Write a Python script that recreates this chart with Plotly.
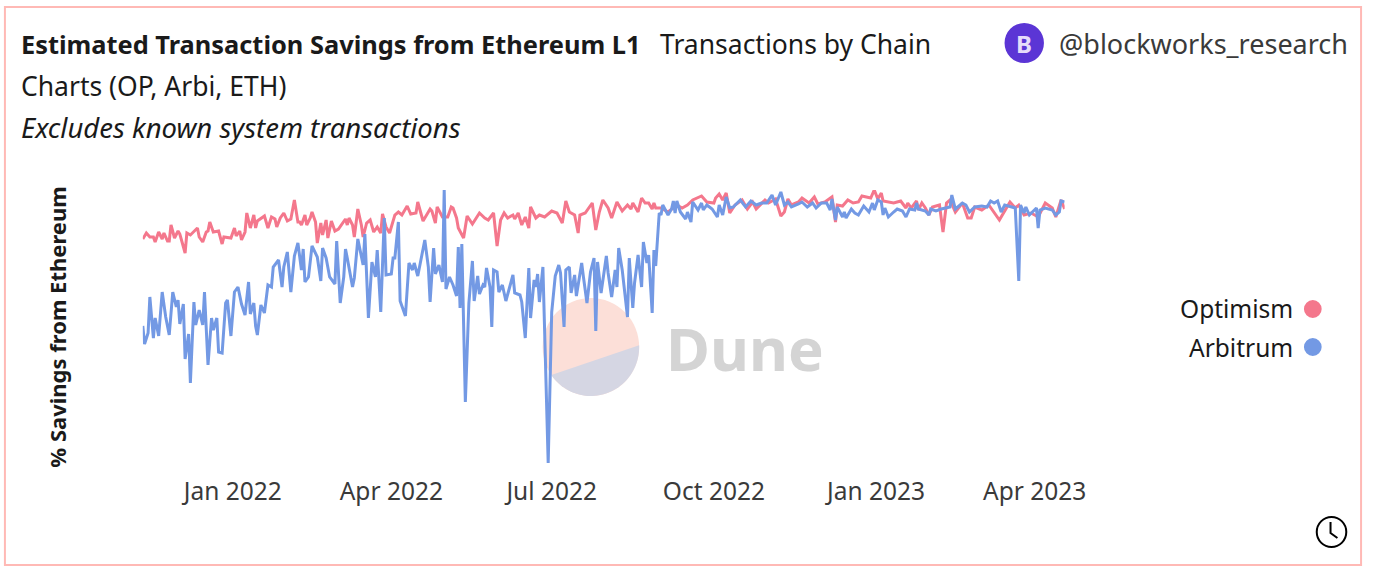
import math
import pandas as pd
import plotly.graph_objects as go

W, H = 1386, 570
FONT = "Noto Sans"
PINK = "#f4778c"
BLUE = "#7399e4"

start = pd.Timestamp("2021-11-11")
end = pd.Timestamp("2023-04-18")
tick_dates = ["2022-01-01", "2022-04-01", "2022-07-01", "2022-10-01", "2023-01-01", "2023-04-01"]

# days since start, % savings
op_days = [0,2,4,6,7,9,11,12,14,15,16,18,20,21,24,25,27,31,32,34,36,37,38,40,43,45,46,50,52,53,55,56,58,59,61,63,64,65,69,71,73,75,76,78,80,82,84,86,88,89,90,92,93,95,96,98,99,101,102,104,105,107,109,111,115,116,117,119,120,122,124,125,127,129,131,133,135,136,138,140,143,145,147,150,152,155,156,159,163,164,166,167,170,173,175,
    176,178,179,182,184,187,191,194,196,199,201,203,205,207,210,211,213,215,217,219,220,223,225,228,232,235,238,240,242,245,247,248,251,255,257,259,261,264,266,269,272,275,277,278,281,283,285,287,289,290,291,294,298,303,306,309,312,317,320,324,325,327,329,331,333,336,340,343,346,
    348,351,353,355,359,362,364,366,368,372,374,378,381,383,387,391,393,394,397,400,403,406,408,413,415,417,419,420,424,426,430,433,434,436,439,440,442,444,446,448,452,454,456,458,461,465,468,470,472,476,480,483,486,490,492,495,497,500,504,508,512,516,518,521,523]
op_vals = [94.1,94.7,94.3,94.3,93.8,94.8,94.1,94.7,93.9,93.9,95.5,94.2,94.9,94.6,92.7,94.7,94.5,95.2,94.3,93.8,94.8,94.9,95.8,94.8,94.9,93.6,94.3,94.2,95.2,94.4,94.9,94.0,94.8,96.7,95.2,96.5,95.2,95.9,96.4,95.2,96.3,96.1,95.3,96.2,96.7,95.9,96.1,98.0,95.8,95.8,95.5,96.5,95.5,96.2,96.8,95.8,93.7,95.7,94.5,96.0,94.2,95.9,94.9,95.1,96.1,95.5,96.2,95.5,94.3,97.1,95.5,94.3,95.7,96.0,94.8,95.3,94.7,96.6,95.3,94.7,96.5,96.8,96.5,97.4,96.6,96.7,97.8,95.9,97.1,96.9,95.7,97.3,96.3,96.3,97.3,
    97.2,96.2,95.2,94.2,96.4,95.6,96.7,96.2,96.0,96.7,93.4,96.0,96.7,96.2,96.5,96.1,96.7,95.5,96.3,95.2,97.3,96.2,96.5,96.3,96.9,96.7,95.7,97.9,96.8,96.5,94.7,96.5,96.7,97.7,95.0,96.8,98.0,97.2,96.2,97.8,96.9,97.5,97.1,97.7,96.8,98.2,97.7,97.7,97.1,97.7,97.2,97.2,96.8,97.5,97.2,97.5,98.0,98.4,97.8,97.7,98.2,98.6,98.0,98.7,96.7,97.5,98.0,97.1,97.8,
    97.1,97.7,98.0,97.7,98.1,96.4,96.8,98.1,97.5,97.8,98.2,97.7,98.3,97.6,97.8,98.3,95.8,97.5,97.4,98.0,97.7,97.8,98.4,98.2,99.0,98.1,98.7,97.9,97.8,97.7,97.9,97.2,97.7,97.2,97.9,97.0,97.7,97.2,96.5,97.3,97.5,94.8,97.7,98.0,96.8,97.7,96.2,96.2,97.3,97.0,97.5,96.7,96.0,97.2,97.8,97.2,97.5,96.5,96.7,96.3,97.7,97.2,96.3,98.0,97.1]

arb_days = [0,1,3,4,6,7,9,11,13,15,17,19,20,21,23,24,26,27,29,30,32,34,35,37,39,40,42,43,45,47,48,50,52,54,56,58,60,61,63,64,65,67,69,71,73,74,77,79,80,82,84,86,88,90,91,92,94,96,99,101,102,104,106,109,110,112,114,115,116,119,120,122,125,126,128,130,132,133,135,137,138,141,142,143,145,146,149,151,153,154,156,158,160,162,163,165,166,168,170,171,172,174,
    176,178,179,180,181,183,185,187,188,190,191,193,194,195,197,198,199,201,202,204,206,210,211,214,215,217,219,220,222,223,224,225,227,230,232,234,236,237,239,240,242,243,245,246,249,250,252,254,256,257,258,260,263,264,266,268,269,270,272,275,276,278,279,281,283,284,286,287,289,290,291,293,294,295,298,300,301,302,303,305,308,309,311,312,315,317,318,320,323,326,327,329,331,333,335,339,342,345,
    348,351,354,357,359,362,364,366,368,372,374,377,380,382,385,388,390,391,393,394,397,398,399,402,404,406,409,412,414,415,417,419,420,421,423,426,428,431,433,435,438,439,440,444,446,447,450,453,456,458,459,461,465,467,469,472,476,479,481,483,485,487,489,493,495,497,498,500,501,503,507,508,509,512,516,518,520,521,523]
arb_vals = [85.4,83.6,84.7,88.3,84.2,86.2,84.4,88.8,86.3,84.5,88.8,87.3,88.0,85.6,87.6,82.1,84.6,79.7,87.8,85.5,87.0,85.5,88.8,81.5,86.2,85.0,86.2,82.8,82.7,87.7,88.0,84.4,88.8,89.3,87.6,86.5,89.8,86.6,87.7,85.4,84.5,87.5,86.7,89.5,89.3,91.3,92.0,89.3,91.3,92.8,88.8,92.4,93.7,91.0,93.1,89.8,90.3,93.4,92.3,89.9,93.2,92.2,90.3,89.6,93.9,87.7,90.3,93.1,92.2,89.3,90.2,94.1,91.5,94.6,86.2,91.8,90.3,93.0,86.8,96.2,90.5,90.6,92.2,92.2,95.8,87.9,86.4,91.7,91.0,91.7,90.4,92.4,94.0,91.3,87.8,93.2,90.6,91.5,89.8,99.0,89.1,90.3,
    89.5,88.4,93.3,87.2,93.6,77.8,87.7,91.9,87.9,90.4,88.6,89.5,89.3,91.2,89.3,85.3,91.0,90.8,88.8,89.5,87.9,90.5,88.7,88.5,87.8,84.2,91.2,86.2,90.0,89.3,90.6,87.8,91.3,71.7,86.8,90.4,91.5,90.7,85.3,91.0,91.3,88.7,90.5,88.4,91.7,90.3,87.7,90.8,92.2,84.9,91.8,88.7,92.4,90.7,88.3,91.0,89.3,93.2,91.0,86.3,92.2,87.2,89.7,92.5,89.3,93.8,91.7,92.5,86.7,93.0,91.4,96.7,96.5,97.5,96.5,97.1,97.9,96.7,97.9,96.8,96.1,96.8,95.8,97.8,97.0,97.7,97.0,97.5,97.1,96.3,97.5,96.5,98.3,97.2,97.3,98.0,97.3,97.9,
    97.5,97.7,97.7,98.5,97.5,98.8,97.5,97.8,97.3,97.6,97.8,97.3,97.7,97.2,97.7,97.7,97.0,98.1,96.0,97.3,96.3,96.8,96.2,97.1,96.7,96.5,97.4,96.8,97.7,97.0,98.0,97.8,96.5,97.2,96.3,96.8,97.1,96.9,96.3,97.1,97.0,97.7,97.1,96.9,96.5,97.1,96.9,97.1,97.2,97.3,98.5,97.1,97.7,97.5,96.8,97.3,97.4,97.3,97.9,97.7,97.9,96.8,97.5,97.3,97.2,89.9,97.5,96.7,97.3,96.5,97.2,95.2,97.0,97.2,97.0,96.5,96.8,97.9,97.8]


def px(x):
    return x / W


def py(y):
    return 1 - y / H


def to_dates(days):
    return start + pd.to_timedelta(days, unit="D")


def label(x, y, text, size, anchor="left", color="#1a1a1a"):
    return dict(xref="paper", yref="paper", x=px(x), y=py(y), text=text, showarrow=False,
                xanchor=anchor, yanchor="middle", align=anchor, borderpad=0, borderwidth=0,
                font=dict(family=FONT, size=size, color=color))


def circle(cx, cy, r, **kw):
    return dict(type="circle", xref="paper", yref="paper", x0=px(cx - r), x1=px(cx + r),
                y0=py(cy + r), y1=py(cy - r), **kw)


# lower segment of the watermark pie (plotly paths have no arcs in paper coords)
seg = []
for a in range(-2, 148, 3):
    t = math.radians(a)
    seg.append(f"{px(600 + 49 * math.cos(t))} {py(347 + 49 * math.sin(t))}")
seg_path = "M " + " L ".join(seg) + " Z"

fig = go.Figure()
fig.add_trace(go.Scatter(x=to_dates(op_days), y=op_vals, name="Optimism", mode="lines",
                         line=dict(color=PINK, width=3)))
fig.add_trace(go.Scatter(x=to_dates(arb_days), y=arb_vals, name="Arbitrum", mode="lines",
                         line=dict(color=BLUE, width=3)))

shapes = [
    # card border
    dict(type="rect", xref="paper", yref="paper", x0=px(5), x1=px(1382), y0=py(565), y1=py(7),
         line=dict(color="#ffb9b5", width=2), layer="below"),
    # watermark pie
    circle(600, 347, 49, fillcolor="#fcdfd8", line_width=0, layer="below"),
    dict(type="path", xref="paper", yref="paper", layer="below", fillcolor="#d5d6e3", line_width=0,
         path=seg_path),
    # avatar, legend dots, clock
    circle(1040, 43, 20, fillcolor="#5b35d5", line_width=0),
    circle(1333, 309, 9, fillcolor=PINK, line_width=0),
    circle(1333, 347, 9, fillcolor=BLUE, line_width=0),
    circle(1352, 532, 15, line=dict(color="black", width=2)),
    dict(type="path", xref="paper", yref="paper", line=dict(color="black", width=2),
         path=f"M {px(1351)} {py(522)} L {px(1351)} {py(533)} L {px(1358)} {py(538)}"),
]

annotations = [
    label(21, 44, "<b>Estimated Transaction Savings from Ethereum L1</b>", 25.4),
    label(670, 44, "Transactions by Chain", 26.5),
    label(21, 86, "Charts (OP, Arbi, ETH)", 26.5),
    label(21, 127, "<i>Excludes known system transactions</i>", 27.5),
    label(1040, 43, "<b>B</b>", 24, anchor="center", color="#e6dcfa"),
    label(1075, 43, "@blockworks_research", 27, color="#3a3a3a"),
    label(1313, 308, "Optimism", 24.5, anchor="right"),
    label(1313, 347, "Arbitrum", 24.5, anchor="right"),
    label(676, 348, "<b>Dune</b>", 60, color="#d4d4d4"),
]

fig.update_layout(
    width=W,
    height=H,
    margin=dict(l=0, r=0, t=0, b=0),
    paper_bgcolor="white",
    plot_bgcolor="rgba(0,0,0,0)",
    showlegend=False,
    shapes=shapes,
    annotations=annotations,
    font=dict(family=FONT),
    xaxis=dict(
        domain=[px(145), px(1081)],
        range=[start, end],
        showgrid=False,
        zeroline=False,
        showline=False,
        tickmode="array",
        tickvals=tick_dates,
        tickformat="%b %Y",
        ticks="outside",
        ticklen=6,
        tickcolor="rgba(0,0,0,0)",
        tickfont=dict(family=FONT, size=24.5, color="#3a3a3a"),
    ),
    yaxis=dict(
        domain=[py(464), py(190)],
        range=[71.6, 99],
        showgrid=False,
        zeroline=False,
        showline=False,
        showticklabels=False,
        title=dict(text="<b>% Savings from Ethereum</b>", standoff=69,
                   font=dict(family=FONT, size=22, color="#1a1a1a")),
    ),
)

fig.write_html("out.html", config={"displayModeBar": False},
               post_script="document.body.style.margin='0';")
